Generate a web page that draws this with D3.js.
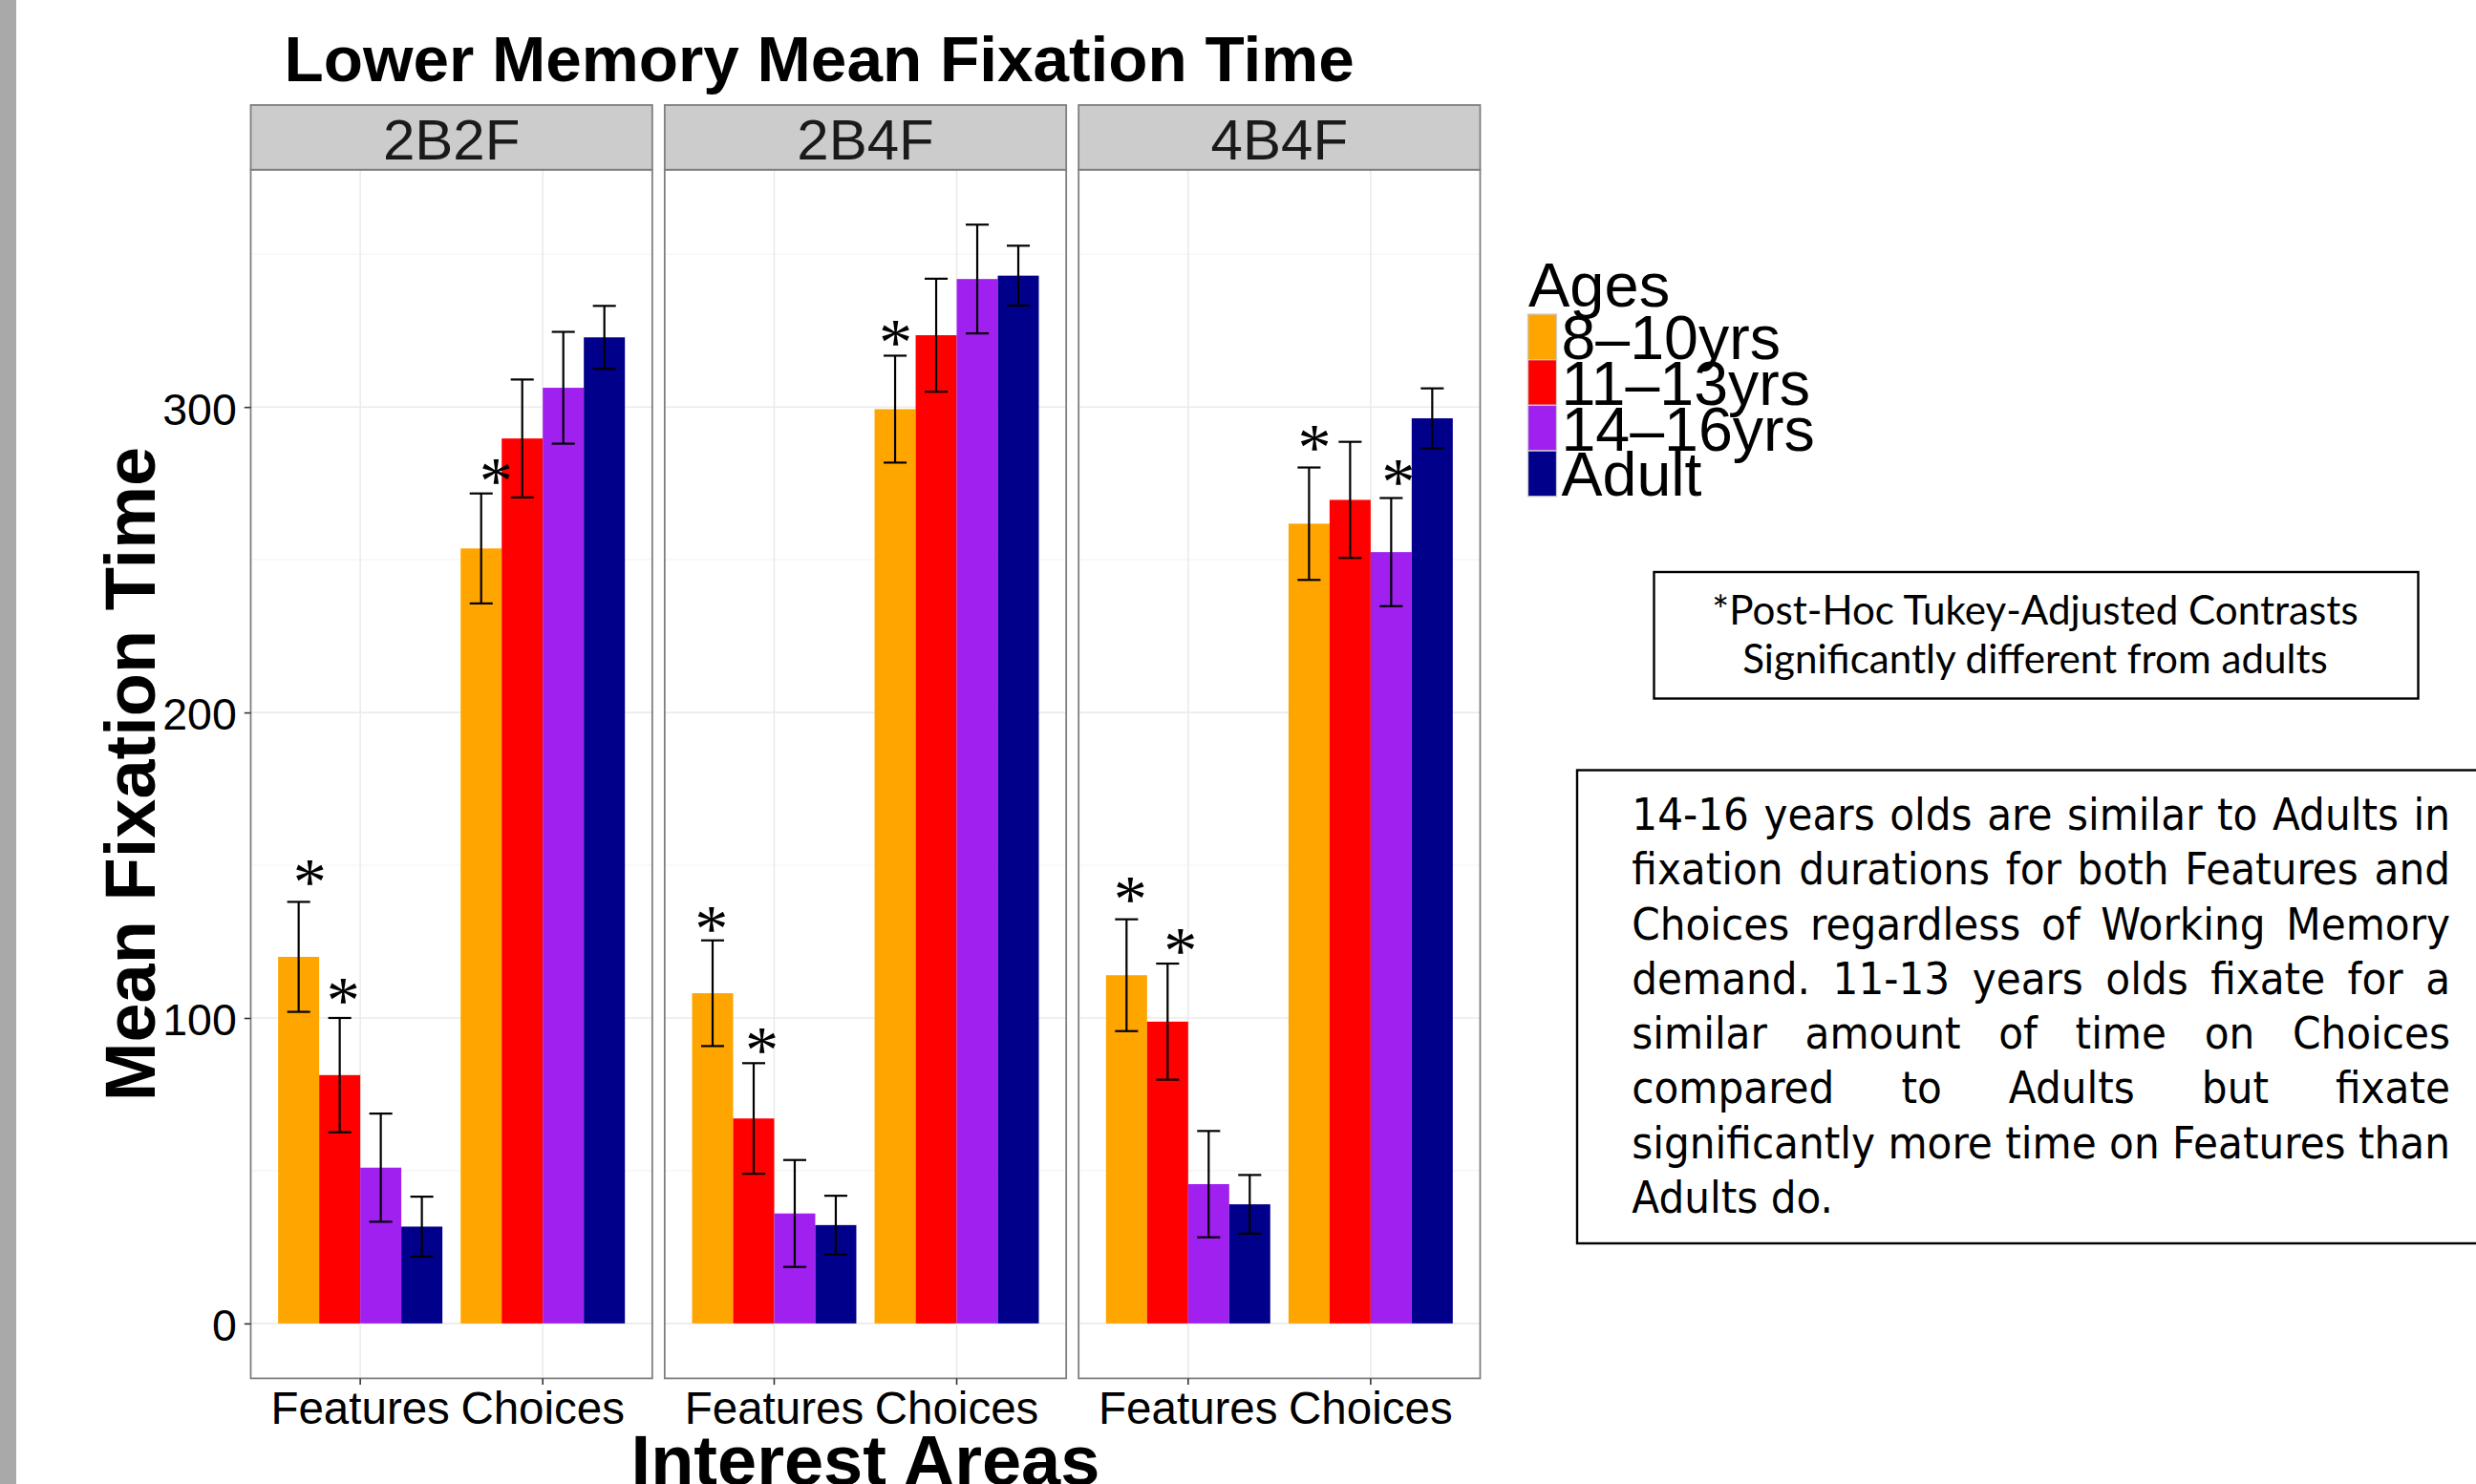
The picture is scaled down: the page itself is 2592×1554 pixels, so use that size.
<!DOCTYPE html>
<html>
<head>
<meta charset="utf-8">
<script src="https://cdn.jsdelivr.net/npm/d3@7"></script>
<style>
  html, body { margin: 0; padding: 0; background: #ffffff; }
  svg { display: block; }
</style>
</head>
<body>
<svg id="chart" width="2592" height="1554"></svg>
<script>
// ---- data -------------------------------------------------------------
const conditions = ["2B2F", "2B4F", "4B4F"];
const areas = ["Features", "Choices"];
const ages = ["8–10yrs", "11–13yrs", "14–16yrs", "Adult"];
const ageColors = ["#FFA500", "#FF0000", "#A020F0", "#00008B"];

// mean fixation time: one row per condition, one value per age group
const featuresMean = [
  [120.0, 81.3, 51.0, 31.7],
  [108.1, 67.1, 36.0, 32.2],
  [114.0, 98.8, 45.6, 39.0]
];
const choicesMean = [
  [253.7, 289.7, 306.3, 322.8],
  [299.3, 323.5, 341.9, 343.0],
  [261.8, 269.6, 252.5, 296.3]
];
// standard errors, same layout
const featuresSE = [
  [18.0, 18.7, 17.7, 9.8],
  [17.3, 18.1, 17.5, 9.6],
  [18.3, 19.0, 17.4, 9.6]
];
const choicesSE = [
  [18.0, 19.3, 18.3, 10.3],
  [17.5, 18.5, 17.8, 9.8],
  [18.4, 19.0, 17.7, 9.8]
];

const yTicks = [0, 100, 200, 300];
const yMinorTicks = [50, 150, 250, 350];

// significance markers: panel, position on the discrete axis, height
const sigMarks = [
  { cond: "2B2F", x: 0.723, y: 147.3 },
  { cond: "2B2F", x: 0.907, y: 108.5 },
  { cond: "2B2F", x: 1.744, y: 278.6 },
  { cond: "2B4F", x: 0.657, y: 132.1 },
  { cond: "2B4F", x: 0.933, y: 92.4 },
  { cond: "2B4F", x: 1.665, y: 323.9 },
  { cond: "4B4F", x: 0.683, y: 141.7 },
  { cond: "4B4F", x: 0.958, y: 124.8 },
  { cond: "4B4F", x: 1.692, y: 289.6 },
  { cond: "4B4F", x: 2.151, y: 278.4 }
];

const titleText = "Lower Memory Mean Fixation Time";
const yTitle = "Mean Fixation Time";
const xTitle = "Interest Areas";
const legendTitle = "Ages";
const contrastNote = ["*Post-Hoc Tukey-Adjusted Contrasts", "Significantly different from adults"];
const summaryNote = [
  "14-16 years olds are similar to Adults in",
  "fixation durations for both Features and",
  "Choices regardless of Working Memory",
  "demand. 11-13 years olds fixate for a",
  "similar amount of time on Choices",
  "compared to Adults but fixate",
  "significantly more time on Features than",
  "Adults do."
];

// ---- long-format rows ------------------------------------------------
const rows = [];
conditions.forEach((cond, i) => {
  areas.forEach((area, j) => {
    const means = j === 0 ? featuresMean : choicesMean;
    const ses = j === 0 ? featuresSE : choicesSE;
    ages.forEach((age, k) => {
      rows.push({ cond, area, age, k, mean: means[i][k], se: ses[i][k] });
    });
  });
});

// ---- layout ------------------------------------------------------------
const SANS = '"Liberation Sans", Arial, Helvetica, sans-serif';
const svg = d3.select("#chart");

const plotLeft = 262.5, plotRight = 1549.5;
const panelTop = 177.7, panelBottom = 1443.4;
const stripTop = 110;

const panelScale = d3.scaleBand().domain(conditions).range([plotLeft, plotRight]).paddingInner(0.03);
const pw = panelScale.bandwidth();
const areaScale = d3.scaleBand().domain(areas).range([0, pw]).paddingInner(0.1).paddingOuter(0.15);
const ageScale = d3.scaleBand().domain(ages).range([0, areaScale.bandwidth()]);
const discretePos = d3.scaleLinear().domain([0.4, 2.6]).range([0, pw]);
const color = d3.scaleOrdinal().domain(ages).range(ageColors);

const dataMax = d3.max(rows, d => d.mean + d.se);
const pad = 0.05 * dataMax;
const y = d3.scaleLinear().domain([-pad, dataMax + pad]).range([panelBottom, panelTop]);

// left grey edge
svg.append("rect").attr("x", 0).attr("y", 0).attr("width", 17).attr("height", 1554).attr("fill", "#a9a9a9");

// title
svg.append("text")
  .attr("x", 297.5).attr("y", 85)
  .attr("font-family", SANS).attr("font-weight", "bold").attr("font-size", 67.5)
  .attr("fill", "#000").text(titleText);

// ---- panels ------------------------------------------------------------
const canvasCtx = document.createElement("canvas").getContext("2d");
function ink(font, ch) {
  canvasCtx.font = font;
  return canvasCtx.measureText(ch);
}

conditions.forEach(cond => {
  const g = svg.append("g").attr("transform", `translate(${panelScale(cond)},0)`);

  g.append("rect").attr("x", 0).attr("y", panelTop).attr("width", pw)
    .attr("height", panelBottom - panelTop).attr("fill", "#fff");

  // grid
  g.selectAll("line.minor").data(yMinorTicks.filter(v => y(v) > panelTop)).join("line")
    .attr("x1", 0).attr("x2", pw).attr("y1", d => y(d)).attr("y2", d => y(d))
    .attr("stroke", "#f7f7f7").attr("stroke-width", 1.6);
  g.selectAll("line.majorY").data(yTicks).join("line")
    .attr("x1", 0).attr("x2", pw).attr("y1", d => y(d)).attr("y2", d => y(d))
    .attr("stroke", "#ebebeb").attr("stroke-width", 1.6);
  g.selectAll("line.majorX").data(areas).join("line")
    .attr("x1", d => areaScale(d) + areaScale.bandwidth() / 2)
    .attr("x2", d => areaScale(d) + areaScale.bandwidth() / 2)
    .attr("y1", panelTop).attr("y2", panelBottom)
    .attr("stroke", "#ebebeb").attr("stroke-width", 1.6);

  const pr = rows.filter(r => r.cond === cond);
  const bx = d => areaScale(d.area) + ageScale(d.age);
  const bw = ageScale.bandwidth();

  g.selectAll("rect.bar").data(pr).join("rect")
    .attr("x", bx).attr("width", bw)
    .attr("y", d => y(d.mean)).attr("height", d => y(0) - y(d.mean))
    .attr("fill", d => color(d.age));

  const capHalf = bw * 0.28;
  const eb = g.selectAll("g.err").data(pr).join("g").attr("stroke", "#000").attr("stroke-width", 2.2);
  eb.append("line")
    .attr("x1", d => bx(d) + bw / 2).attr("x2", d => bx(d) + bw / 2)
    .attr("y1", d => y(d.mean + d.se)).attr("y2", d => y(d.mean - d.se));
  eb.append("line")
    .attr("x1", d => bx(d) + bw / 2 - capHalf).attr("x2", d => bx(d) + bw / 2 + capHalf)
    .attr("y1", d => y(d.mean + d.se)).attr("y2", d => y(d.mean + d.se));
  eb.append("line")
    .attr("x1", d => bx(d) + bw / 2 - capHalf).attr("x2", d => bx(d) + bw / 2 + capHalf)
    .attr("y1", d => y(d.mean - d.se)).attr("y2", d => y(d.mean - d.se));

  // significance asterisks, glyph ink centred on the marker position
  const starFamily = '"Liberation Serif", serif';
  const m100 = ink(`100px ${starFamily}`, "*");
  const inkH = m100.actualBoundingBoxAscent + m100.actualBoundingBoxDescent;
  const starSize = 26 / inkH * 100;
  const starShift = (m100.actualBoundingBoxAscent - m100.actualBoundingBoxDescent) / 2 * starSize / 100;
  g.selectAll("text.star").data(sigMarks.filter(s => s.cond === cond)).join("text")
    .attr("x", d => discretePos(d.x)).attr("y", d => y(d.y) + starShift)
    .attr("text-anchor", "middle").attr("font-family", starFamily).attr("font-size", starSize)
    .attr("fill", "#000").text("*");

  // panel border
  g.append("rect").attr("x", 0).attr("y", panelTop).attr("width", pw)
    .attr("height", panelBottom - panelTop).attr("fill", "none")
    .attr("stroke", "#7f7f7f").attr("stroke-width", 1.8);

  // strip
  g.append("rect").attr("x", 0).attr("y", stripTop).attr("width", pw)
    .attr("height", panelTop - stripTop).attr("fill", "#cccccc")
    .attr("stroke", "#7f7f7f").attr("stroke-width", 1.8);
  g.append("text").attr("x", pw / 2).attr("y", 166.7).attr("text-anchor", "middle")
    .attr("font-family", SANS).attr("font-size", 60).attr("fill", "#1a1a1a").text(cond);

  // x axis
  const xa = g.append("g").attr("transform", `translate(0,${panelBottom})`)
    .call(d3.axisBottom(areaScale).tickSize(6.7).tickSizeOuter(0));
  xa.select(".domain").remove();
  xa.selectAll(".tick line").attr("stroke", "#333").attr("stroke-width", 1.6);
  xa.selectAll(".tick text").attr("font-family", SANS).attr("font-size", 47.5)
    .attr("fill", "#000").attr("dy", null).attr("y", 1491 - panelBottom);
});

// y axis
const ya = svg.append("g").attr("transform", `translate(${plotLeft},0)`)
  .call(d3.axisLeft(y).tickValues(yTicks).tickSize(6.7).tickPadding(8));
ya.select(".domain").remove();
ya.selectAll(".tick line").attr("stroke", "#333").attr("stroke-width", 1.6);
ya.selectAll(".tick text").attr("font-family", SANS).attr("font-size", 46.5)
  .attr("fill", "#000").attr("dy", "0.385em");

// axis titles
svg.append("text")
  .attr("transform", `translate(161.6,${(panelTop + panelBottom) / 2}) rotate(-90)`)
  .attr("text-anchor", "middle").attr("font-family", SANS).attr("font-weight", "bold")
  .attr("font-size", 74).attr("fill", "#000").text(yTitle);
svg.append("text")
  .attr("x", (plotLeft + plotRight) / 2).attr("y", 1555)
  .attr("text-anchor", "middle").attr("font-family", SANS).attr("font-weight", "bold")
  .attr("font-size", 74).attr("fill", "#000").text(xTitle);

// ---- legend ----------------------------------------------------------
const legend = svg.append("g");
legend.append("text").attr("x", 1600).attr("y", 321)
  .attr("font-family", SANS).attr("font-size", 65).attr("fill", "#000").text(legendTitle);
const keyH = 47.7, keyTop = 329;
const items = legend.selectAll("g.item").data(ages).join("g")
  .attr("transform", (d, i) => `translate(1599.5,${keyTop + i * keyH})`);
items.append("rect").attr("x", 0).attr("y", 0).attr("width", 30).attr("height", keyH)
  .attr("fill", d => color(d)).attr("stroke", "#cccccc").attr("stroke-width", 1.3);
items.append("text").attr("x", 35).attr("y", keyH - 0.5)
  .attr("font-family", SANS).attr("font-size", 64.5).attr("fill", "#000").text(d => d);

// ---- note boxes ------------------------------------------------------
svg.append("rect").attr("x", 1731.5).attr("y", 599).attr("width", 800).attr("height", 132.5)
  .attr("fill", "#fff").attr("stroke", "#000").attr("stroke-width", 2.4);
{
  const fam = 'Lato, "Open Sans", sans-serif';
  const fs = 42;
  const w1 = ink(`${fs}px ${fam}`, contrastNote[0]).width;
  const fx = 677.6 / w1;
  const cg = svg.append("g").attr("transform", `translate(2130.5,0) scale(${fx},1)`);
  cg.selectAll("text").data(contrastNote).join("text")
    .attr("x", 0).attr("y", (d, i) => 654 + i * 51).attr("text-anchor", "middle")
    .attr("font-family", fam).attr("font-size", fs).attr("fill", "#000").text(d => d);
}

svg.append("rect").attr("x", 1651).attr("y", 806.5).attr("width", 1000).attr("height", 495.5)
  .attr("fill", "#fff").attr("stroke", "#000").attr("stroke-width", 2.4);
{
  const fam = '"DejaVu Sans", Verdana, sans-serif';
  const fs = 46.5;
  const font = `${fs}px ${fam}`;
  const left = 1708.3, right = 2565;
  const target = right - left;
  const spaceW = ink(font, " ").width;
  const lines = summaryNote.map(s => {
    const words = s.split(" ");
    const widths = words.map(w => ink(font, w).width);
    return { words, widths, natural: d3.sum(widths) + spaceW * (words.length - 1) };
  });
  // condense horizontally so the widest line fits, then justify every line but the last
  const fx = Math.min(1, target / d3.max(lines.slice(0, -1), l => l.natural));
  const inner = target / fx;
  const sg = svg.append("g").attr("transform", `translate(${left},0) scale(${fx},1)`);
  lines.forEach((l, i) => {
    const last = i === lines.length - 1;
    const gap = last ? spaceW : (inner - d3.sum(l.widths)) / (l.words.length - 1);
    let x = 0;
    const t = sg.append("text").attr("y", 869 + i * 57.3)
      .attr("font-family", fam).attr("font-size", fs).attr("fill", "#000");
    l.words.forEach((w, k) => {
      t.append("tspan").attr("x", x).text(w);
      x += l.widths[k] + gap;
    });
  });
}
</script>
</body>
</html>
